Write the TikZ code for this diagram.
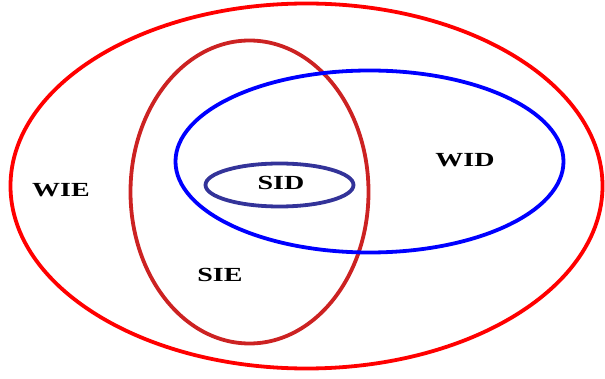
\documentclass[tikz,border=0pt]{standalone}
\usepackage{fontspec}
\setmainfont{Liberation Serif}
\usetikzlibrary{shapes.geometric}

\definecolor{darkred}{RGB}{204,34,34}
\definecolor{navy}{RGB}{51,51,153}

\newcommand{\widelab}[1]{\scalebox{1.4}[1]{#1}}

\begin{document}
\begin{tikzpicture}[x=1pt, y=-1pt]

        \def\lw{3.8pt}              % line width of the sets
        \tikzstyle{set}=[ellipse,draw,line width=\lw,inner sep=0pt]
        \tikzstyle{lab}=[font={\fontsize{20pt}{20pt}\selectfont\bfseries}]

        \useasboundingbox (0,0) rectangle (605,379);

        % Draw the sets
        \node[set,draw=red,minimum width=592pt,minimum height=365pt] (W) at (306.5,186) {};
        \node[set,draw=darkred,minimum width=238pt,minimum height=303pt] (S) at (249.5,192) {};
        \node[set,draw=blue,minimum width=388pt,minimum height=182pt] (D) at (369.5,161.5) {};
        \node[set,draw=navy,minimum width=148pt,minimum height=43pt] (SD) at (279.5,185) {};

        % Draw the labels
        \node[lab] (WIE) at (61,190) {\widelab{WIE}};
        \node[lab] (SID) at (281,183) {\widelab{SID}};
        \node[lab] (SIE) at (220,275) {\widelab{SIE}};
        \node[lab] (WID) at (465,160) {\widelab{WID}};

\end{tikzpicture}
\end{document}
